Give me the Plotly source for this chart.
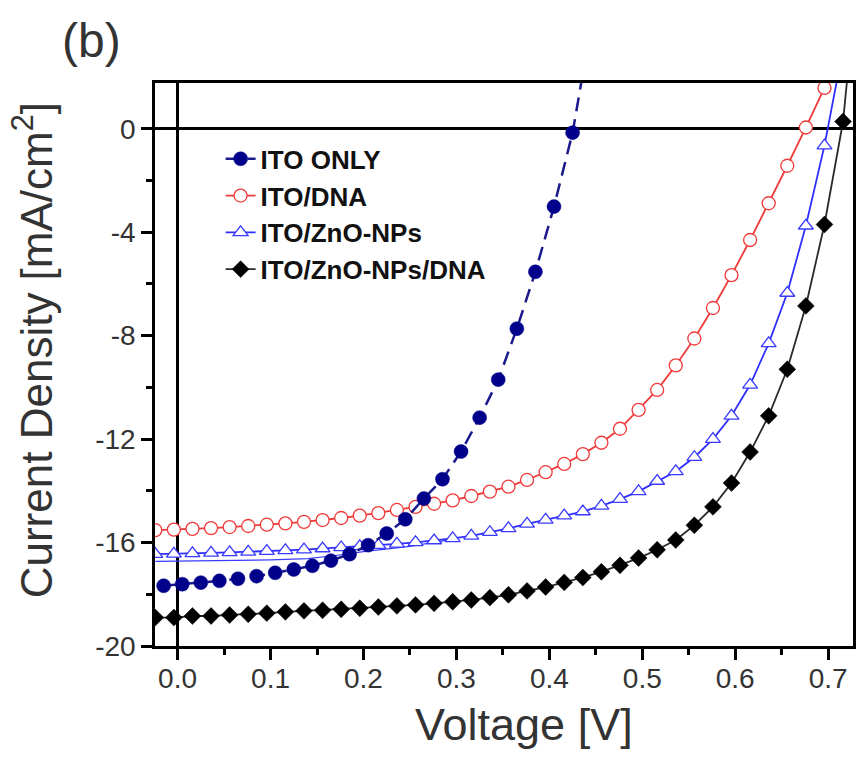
import plotly.graph_objects as go

# J-V curves of the four electrode configurations
v_ito = [-0.015, 0.005, 0.025, 0.045, 0.065, 0.085, 0.105, 0.125, 0.145, 0.165,
         0.185, 0.205, 0.225, 0.245, 0.265, 0.285, 0.305, 0.325, 0.345, 0.365,
         0.385, 0.405, 0.425, 0.445]
j_ito = [-17.67, -17.61, -17.55, -17.48, -17.40, -17.30, -17.17, -17.04, -16.90, -16.70,
         -16.45, -16.10, -15.65, -15.10, -14.30, -13.55, -12.48, -11.17, -9.70, -7.73,
         -5.53, -3.01, -0.15, 4.00]

v_dna = [-0.024, -0.004, 0.016, 0.036, 0.056, 0.076, 0.096, 0.116, 0.136, 0.156,
         0.176, 0.196, 0.216, 0.236, 0.256, 0.276, 0.296, 0.316, 0.336, 0.356,
         0.376, 0.396, 0.416, 0.436, 0.456, 0.476, 0.496, 0.516, 0.536, 0.556,
         0.576, 0.596, 0.616, 0.636, 0.656, 0.676, 0.696]
j_dna = [-15.52, -15.50, -15.47, -15.44, -15.40, -15.36, -15.31, -15.26, -15.20, -15.13,
         -15.05, -14.96, -14.86, -14.74, -14.62, -14.50, -14.37, -14.20, -14.03, -13.84,
         -13.58, -13.28, -12.96, -12.58, -12.14, -11.60, -10.87, -10.10, -9.15, -8.11,
         -6.93, -5.66, -4.30, -2.88, -1.43, 0.05, 1.58]

v_zno = [-0.024, -0.004, 0.016, 0.036, 0.056, 0.076, 0.096, 0.116, 0.136, 0.156,
         0.176, 0.196, 0.216, 0.236, 0.256, 0.276, 0.296, 0.316, 0.336, 0.356,
         0.376, 0.396, 0.416, 0.436, 0.456, 0.476, 0.496, 0.516, 0.536, 0.556,
         0.576, 0.596, 0.616, 0.636, 0.656, 0.676, 0.696, 0.716]
j_zno = [-16.45, -16.44, -16.42, -16.40, -16.38, -16.36, -16.33, -16.30, -16.27, -16.23,
         -16.19, -16.15, -16.10, -16.05, -15.99, -15.92, -15.84, -15.74, -15.60, -15.45,
         -15.28, -15.12, -14.96, -14.80, -14.58, -14.32, -14.02, -13.62, -13.25, -12.70,
         -12.00, -11.10, -9.90, -8.30, -6.35, -3.75, -0.65, 3.10]

# thin companion trace of the ZnO-NPs measurement
v_zno_ref = [-0.024, 0.05, 0.10, 0.14, 0.17, 0.20, 0.25, 0.30]
j_zno_ref = [-16.73, -16.70, -16.67, -16.62, -16.50, -16.35, -16.15, -15.85]

v_zno_dna = [-0.024, -0.004, 0.016, 0.036, 0.056, 0.076, 0.096, 0.116, 0.136, 0.156,
             0.176, 0.196, 0.216, 0.236, 0.256, 0.276, 0.296, 0.316, 0.336, 0.356,
             0.376, 0.396, 0.416, 0.436, 0.456, 0.476, 0.496, 0.516, 0.536, 0.556,
             0.576, 0.596, 0.616, 0.636, 0.656, 0.676, 0.696, 0.716, 0.736]
j_zno_dna = [-18.90, -18.90, -18.84, -18.84, -18.80, -18.77, -18.73, -18.68, -18.64, -18.62,
             -18.58, -18.54, -18.49, -18.45, -18.41, -18.35, -18.29, -18.22, -18.13, -18.02,
             -17.87, -17.72, -17.54, -17.35, -17.13, -16.88, -16.60, -16.28, -15.90, -15.33,
             -14.62, -13.70, -12.50, -11.10, -9.30, -6.85, -3.70, 0.28, 7.70]

x_ticks = [0.0, 0.1, 0.2, 0.3, 0.4, 0.5, 0.6, 0.7]
y_ticks = [0, -4, -8, -12, -16, -20]

FONT = "Liberation Sans, Arial, sans-serif"
TXT = "#333333"

fig = go.Figure()

fig.add_trace(go.Scatter(
    x=v_zno_ref, y=j_zno_ref, mode="lines", showlegend=False,
    line=dict(color="#3b3bff", width=1.2), hoverinfo="skip"))

fig.add_trace(go.Scatter(
    x=v_dna, y=j_dna, mode="lines+markers", name="ITO/DNA", legendrank=2,
    line=dict(color="#f03a3a", width=1.8),
    marker=dict(symbol="circle", size=13, color="white",
                line=dict(color="#f03a3a", width=1.3))))

fig.add_trace(go.Scatter(
    x=v_zno, y=j_zno, mode="lines+markers", name="ITO/ZnO-NPs", legendrank=3,
    line=dict(color="#2f2fff", width=1.8),
    marker=dict(symbol="triangle-up", size=13, color="white",
                line=dict(color="#3b3bff", width=1.3))))

fig.add_trace(go.Scatter(
    x=v_zno_dna, y=j_zno_dna, mode="lines+markers", name="ITO/ZnO-NPs/DNA", legendrank=4,
    line=dict(color="#2a2a2a", width=1.8),
    marker=dict(symbol="diamond", size=13, color="black",
                line=dict(color="black", width=0.5))))

fig.add_trace(go.Scatter(
    x=v_ito, y=j_ito, mode="lines+markers", name="ITO ONLY", legendrank=1,
    line=dict(color="#1a1a8c", width=2.5, dash="14px,8px"),
    marker=dict(symbol="circle", size=14, color="#00008b",
                line=dict(color="#00008b", width=0.5))))

axis_common = dict(
    showline=True, linecolor="black", linewidth=2.5, mirror=True,
    ticks="outside", ticklen=11, tickwidth=2.5, tickcolor="black",
    showgrid=False, zeroline=True, zerolinecolor="black", zerolinewidth=3,
    tickfont=dict(family=FONT, size=28, color=TXT),
)

fig.update_xaxes(
    range=[-0.0243, 0.7267], tickmode="array", tickvals=x_ticks,
    ticktext=[f"{v:.1f}" for v in x_ticks], ticklabelstandoff=-5,
    minor=dict(ticks="outside", ticklen=6, tickwidth=2.5, tickcolor="black", dtick=0.05, tick0=0.05),
    **axis_common)
fig.update_yaxes(
    range=[-20, 1.77], tickmode="array", tickvals=y_ticks,
    ticktext=[str(v) for v in y_ticks],
    minor=dict(ticks="outside", ticklen=6, tickwidth=2.5, tickcolor="black", dtick=2, tick0=-2),
    **axis_common)

fig.update_layout(
    width=858, height=770,
    margin=dict(l=155, r=2, t=83, b=124),
    paper_bgcolor="white", plot_bgcolor="white",
    font=dict(family=FONT, color=TXT),
    legend=dict(
        x=0.094, y=0.907, xanchor="left", yanchor="top",
        bgcolor="rgba(0,0,0,0)", borderwidth=0,
        font=dict(family=FONT, size=26, color="#111111", weight="bold"),
        tracegroupgap=0),
    annotations=[
        dict(text="Voltage [V]", xref="paper", yref="paper", x=0.529, y=-0.14,
             xanchor="center", yanchor="middle", showarrow=False,
             font=dict(family=FONT, size=45, color=TXT)),
        dict(text="Current Density [mA/cm<sup>2</sup>]", xref="paper", yref="paper",
             x=-0.175, y=0.525, xanchor="center", yanchor="middle", textangle=-90,
             showarrow=False, font=dict(family=FONT, size=44, color=TXT)),
        dict(text="(b)", xref="paper", yref="paper", x=-0.091, y=1.075,
             xanchor="center", yanchor="middle", showarrow=False,
             font=dict(family=FONT, size=48, color=TXT)),
    ],
)

fig.write_html("out.html")
